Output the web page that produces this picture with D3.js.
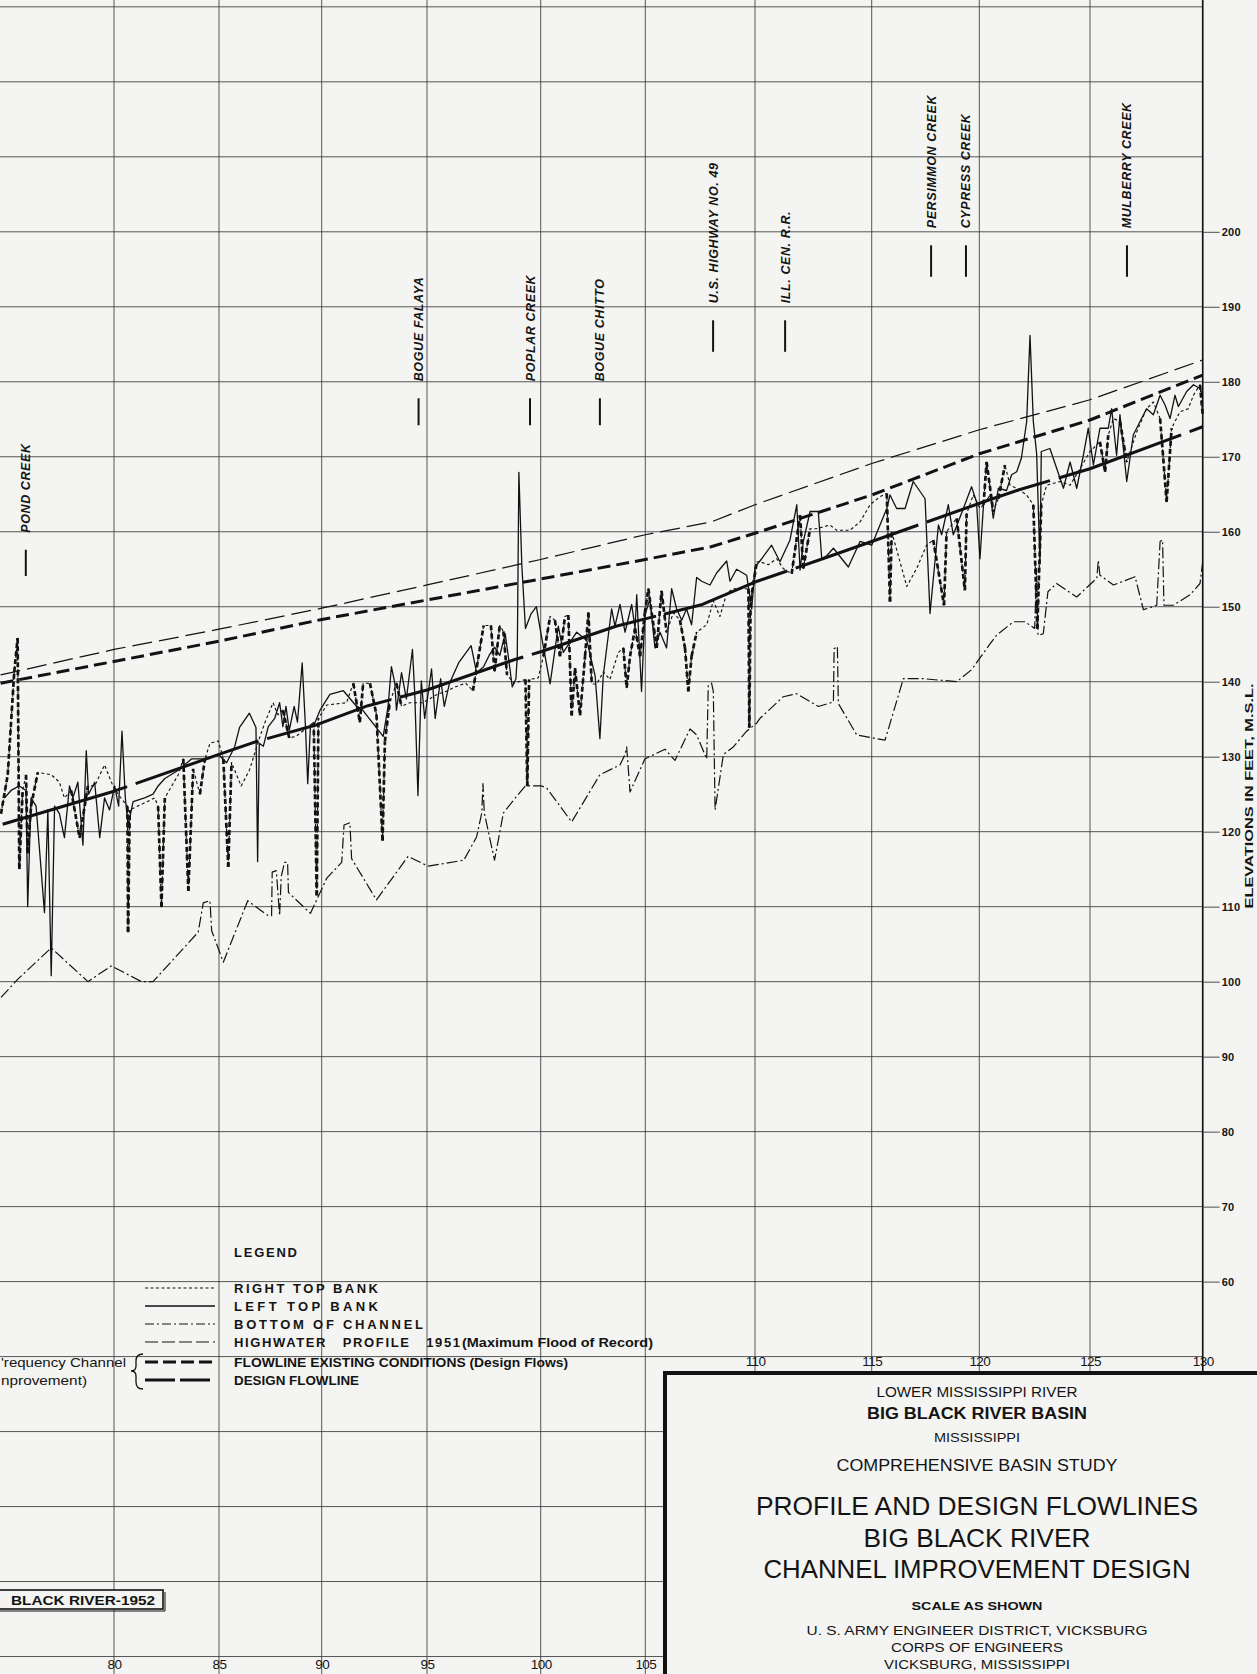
<!DOCTYPE html>
<html><head><meta charset="utf-8">
<script src="https://cdn.jsdelivr.net/npm/d3@7"></script>
<style>
body{margin:0;background:#f4f4f2;}
svg{display:block;}
text{fill:#141414;font-family:"Liberation Sans",Arial,sans-serif;}
</style></head><body>
<svg id="c" width="1257" height="1674"></svg>
<script>
// ---------------- DATA ----------------
const xTicks = [80,85,90,95,100,105,110,115,120,125,130];       // river miles (grid)
const bottomMileLabels = [80,85,90,95,100,105];
const topMileLabels = [110,115,120,125,130];
const gridLevels = [10,20,30,40,50,60,70,80,90,100,110,120,130,140,150,160,170,180,190,200,210,220,230];
const elevLabels = [60,70,80,90,100,110,120,130,140,150,160,170,180,190,200];

const highwater1951 = [[74.6,140.9],[80,144.3],[85,147.0],[90,149.8],[95,152.9],[100,156.3],[105,159.6],[108,161.3],[110,163.6],[115,169.1],[120,173.6],[125,177.6],[130,182.9]];
const flowlineExisting = [[74.6,139.8],[80,142.7],[85,145.4],[90,148.3],[95,150.9],[100,153.7],[105,156.3],[108,158.0],[110,159.8],[115,164.9],[120,170.4],[125,174.9],[130,180.9]];
const designFlowline = [[74.7,121.0],[80,125.4],[85,130.3],[86.8,132.0],[89.8,134.3],[92.2,136.8],[95,138.9],[98.8,142.9],[100,144.0],[103.6,147.4],[107.6,150.3],[110.1,153.4],[112.9,156.4],[115,158.7],[120.4,164.2],[121.8,165.6],[125,168.4],[130,174.0]];

const leftTopBank = [
[74.78,124.5],[75.1,125.5],[75.49,126.1],[75.81,125.5],[75.89,110],[76.05,124.5],[76.29,123.4],[76.69,109.2],[76.85,122.9],[77.01,100.8],[77.17,123.4],[77.40,122.4],[77.64,119.2],[77.88,126.1],[78.04,124.5],[78.28,126.6],[78.52,118.2],[78.68,130.8],[78.79,125],[79.08,126.6],[79.32,119.2],[79.55,124.5],[79.79,122.9],[80.03,126.1],[80.22,123.4],[80.38,133.4],[80.54,124.5],[80.67,120.8],[80.91,124],[81.46,124.5],[81.86,125],[82.10,126.1],[82.42,127.1],[83.06,128.2],[83.69,129.7],[84.33,129.7],[84.97,130.3],[85.37,129.2],[85.76,131.3],[86.0,133.9],[86.48,135.8],[86.8,133.9],[86.88,116],[86.96,131.8],
[87.16,131.4],[87.40,134],[87.71,135.1],[87.95,137.2],[88.11,134],[88.26,136.7],[88.42,133.5],[88.66,136.7],[88.82,134.6],[89.05,142.5],[89.21,134],[89.32,126.4],[89.45,134],[89.68,134.6],[89.92,136.2],[90.39,138.3],[91.03,138.8],[91.66,136.7],[91.89,136.4],[92.92,132.7],[93.15,136.7],[93.31,142],[93.47,139.8],[93.55,136.2],[93.79,141.2],[94.02,137.7],[94.31,144.3],[94.42,138.3],[94.57,124.8],[94.73,140.1],[94.89,135.1],[95.2,141.7],[95.36,135.1],[95.6,140.4],[95.76,136.7],[95.99,139.8],[96.39,142.5],[96.94,144.8],[97.18,141.2],[97.49,142],[97.73,143.5],[97.97,144.6],[98.2,143.5],[98.44,146.4],[98.6,142.8],[98.75,139.3],[98.91,140.4],[98.97,143.4],
[99.04,167.9],[99.17,155.5],[99.33,147.1],[99.57,149],[99.81,150],[99.97,147.1],[100.45,139.7],[100.84,147.4],[101.08,143.9],[101.72,146.6],[102.2,145.5],[102.6,140.8],[102.83,132.4],[102.99,140.8],[103.39,149.7],[103.55,147.4],[103.79,150.3],[104.03,146.6],[104.35,150.3],[104.51,147.1],[104.59,151.6],[104.82,138.7],[104.98,148.9],[105.21,151],[105.44,144.5],[105.67,146.6],[105.97,144.5],[106.2,152.4],[106.43,149.7],[106.66,148.2],[106.88,149.7],[107.11,147.6],[107.34,153.9],[107.57,153.4],[107.95,152.9],[108.25,154.5],[108.71,156.1],[108.86,153.4],[109.16,155],[109.62,154.2],[109.85,149.7],[110.0,155.3],
[110.29,156.4],[110.71,158.2],[111.07,156],[111.5,158.9],[111.79,163.6],[111.93,154.9],[112.07,158.7],[112.36,162.7],[112.71,162.7],[112.86,156.4],[113.07,156.8],[113.36,157.8],[114,155.3],[114.5,158.7],[115,158.2],[115.7,163.1],[115.85,164.9],[116.16,163.1],[116.55,163.1],[116.93,166.7],[117.48,164.4],[117.71,149.1],[118.1,160.9],[118.25,159.6],[118.56,163.6],[118.79,159.6],[119.26,163.1],[119.64,166],[119.87,164],[120.03,156.4],[120.19,163.6],[120.5,164.9],
[120.63,161.8],[120.86,165.8],[121.23,165.5],[121.46,167.6],[121.69,168],[121.9,169.8],[122.14,174.7],[122.29,186.2],[122.44,174.7],[122.59,170.4],[122.74,155.8],[122.8,170.7],[123.19,171.1],[123.8,165.8],[124.1,169.3],[124.4,165.8],[124.7,170.2],[124.92,173.8],[125.15,168.9],[125.44,173.8],[125.81,173.8],[125.96,176.4],[126.18,170.2],[126.33,175.6],[126.63,166.7],[126.92,172.9],[127.22,174.7],[127.51,176.4],[127.81,175.6],[128.11,178.2],[128.33,176.9],[128.55,175.1],[128.77,178.2],[128.92,176.7],[129.29,178.7],[129.59,179.6],[129.88,179.1],[130,178.2]];

const rightTopBank = [
[74.62,122.4],[74.94,127.6],[75.25,141.3],[75.41,145.8],[75.49,115],[75.65,125.5],[75.81,127.6],[75.89,117.1],[76.05,123.4],[76.37,127.9],[77.01,127.6],[77.40,126.6],[77.64,124.5],[77.96,125.5],[78.36,119.2],[78.76,126.1],[79.08,126.1],[79.55,128.9],[79.95,126.1],[80.19,125],[80.64,123.4],[80.67,106.6],[80.75,122.9],[81.94,124.5],[82.10,123.4],[82.26,110],[82.42,124.5],[83.06,127.6],[83.3,129.7],[83.54,112.1],[83.77,128.4],[84.09,125],[84.33,129.7],[84.57,131.8],[84.97,132.1],[85.21,129.7],[85.45,115.3],[85.61,129.2],[86.08,126.1],[86.48,128.2],[86.96,132.4],
[87.24,134.6],[87.63,137.2],[87.87,135.6],[88.11,136.2],[88.42,132.5],[88.74,132.7],[89.13,133.5],[89.61,134.6],[89.76,111.5],[89.84,135.1],[90.24,136.9],[91.18,137.2],[91.5,139.8],[91.81,134.6],[91.97,139.8],[92.29,139.8],[92.6,135.6],[92.89,118.8],[93.0,132],[93.23,137.2],[93.55,139.8],[93.79,136.7],[94.18,137.2],[94.81,137.2],[95.44,138.3],[95.91,138.8],[96.23,139.3],[96.7,139.8],[97.02,138.8],[97.49,147.5],[97.81,147.5],[97.97,141.4],[98.2,147.5],[98.36,146.7],[98.52,140.9],[98.83,139.8],
[99.33,140.3],[99.41,126.1],[99.49,140.3],[99.89,140.5],[100.13,143.4],[100.45,148.7],[100.68,148.2],[100.92,143.4],[101.16,148.7],[101.32,148.9],[101.48,135.5],[101.64,141.8],[101.88,135.5],[102.12,143.4],[102.28,149.2],[102.44,139.7],[102.68,139.7],[102.99,141.3],[103.31,140.3],[103.71,143.9],[103.95,144.5],[104.11,139.2],[104.27,143.4],[104.51,147.1],[104.75,143.4],[104.98,149.2],[105.14,152.4],[105.29,149.2],[105.52,144.5],[105.74,152.1],[105.97,146.6],[106.28,149.2],[106.58,148.2],[106.81,144.5],[106.96,138.7],[107.11,143.4],[107.34,146.6],[107.8,147.6],[108.1,150.8],[108.4,148.7],[108.71,151.8],[109.01,152.4],[109.7,152.4],[109.74,133.9],[109.8,150.8],[110.08,156],
[110.21,156],[110.57,155.6],[110.93,156.4],[111.21,155.1],[111.57,154.4],[111.93,162.2],[112.07,155.1],[112.36,160.4],[112.64,160.4],[113.21,160.9],[113.5,160.2],[114.07,160.2],[114.5,161.3],[114.93,163.6],[115.39,164.7],[115.7,165.1],[115.85,150.7],[115.93,160],[116.63,152.7],[117.09,155.1],[117.55,158.2],[117.86,158.9],[118.36,150.2],[118.48,160],[118.95,161.8],[119.33,152.2],[119.41,162.4],[119.72,164.9],[120.03,163.1],[120.19,163.6],
[120.33,169.3],[120.63,162.7],[120.86,164.4],[121.16,168.9],[121.39,166.2],[121.69,165.8],[122.14,164.9],[122.44,163.6],[122.62,147.1],[122.8,163.6],[123.04,166.2],[123.64,166.7],[124.1,166.2],[124.55,168.4],[125,170.7],[125.44,172],[125.67,168],[125.81,172.9],[126.04,175.1],[126.33,174.7],[126.63,169.3],[127.07,173.3],[127.51,176.4],[127.81,177.3],[128.11,175.1],[128.4,164],[128.62,173.8],[128.99,176],[129.36,176.4],[129.59,178.2],[129.88,179.6],[130,175.6]];

const bottomOfChannel = [
[74.62,97.9],[75.41,100.3],[77.01,104.5],[78.76,100],[79.87,102.1],[81.31,100],[81.86,100],[84.01,106.6],[84.25,110.5],[84.57,110.8],[84.65,106.8],[85.21,102.6],[86.4,110.8],[87.04,109.5],[87.4,108.8],[87.56,108.8],[87.59,114.6],[87.79,114.8],[87.95,108.8],[88.03,114],[88.19,115.9],[88.34,115.9],[88.38,111.9],[89.45,109.1],[90.24,113.8],[90.95,115.9],[91.06,120.9],[91.34,121.2],[91.42,116.4],[92.6,110.9],[94.1,116.7],[95.05,115.4],[96.62,116.2],[97.18,119.3],[97.41,122.5],[97.46,126.4],[97.52,122.5],[97.97,116.2],[98.36,122.5],[98.91,124.6],[99.33,126.1],[100.05,126.1],[100.29,125.8],[101.48,121.3],[102.83,127.6],[103.79,128.9],[104.03,130.3],[104.11,131.3],[104.27,125.3],[104.98,129.7],[105.9,131],[106.35,129.5],[107.04,133.7],[107.34,132.9],[107.8,129.7],[107.87,139.5],[108.02,139.8],[108.1,138.7],[108.18,122.9],[108.56,130.3],[109.01,131.3],[109.62,133.4],[110.08,134.5],[110.21,135.1],[111.21,138],[111.79,138.4],[112.71,136.7],[113.36,137.3],[113.39,144.4],[113.53,144.7],[113.57,137.1],[114.36,132.9],[115.62,132.2],[116.47,140.4],[117.4,140.4],[118.95,140],[119.64,141.6],[120.5,145.1],[120.78,146.2],[121.54,148],[122.06,148],[122.5,147.1],[122.59,155.1],[122.65,146.2],[122.89,146.4],[123.1,152],[123.49,153.1],[124.4,151.3],[125.3,153.8],[125.37,156.2],[125.44,154.2],[126.04,152.9],[127,154],[127.37,149.6],[127.96,150.2],[128.11,158.7],[128.22,158.9],[128.28,150.2],[128.7,150.2],[129.44,151.6],[129.88,153.1],[130,156]];

const markerNames = ["POND CREEK","BOGUE FALAYA","POPLAR CREEK","BOGUE CHITTO","U.S. HIGHWAY NO. 49","ILL. CEN. R.R.","PERSIMMON CREEK","CYPRESS CREEK","MULBERRY CREEK"];
const markerMiles = [75.8,94.6,99.53,102.83,108.09,111.29,117.76,119.38,126.64];
const markerTop = [157.6,177.8,177.8,177.8,188.2,188.2,198.2,198.2,198.2];
const markerBottom = [154.1,174.2,174.2,174.2,184.0,184.0,194.0,194.0,194.0];

const legendLabels = ["RIGHT TOP BANK","LEFT TOP BANK","BOTTOM OF CHANNEL","HIGHWATER   PROFILE   1951","FLOWLINE EXISTING CONDITIONS (Design Flows)","DESIGN FLOWLINE"];
const legendNote = "(Maximum Flood of Record)";
const bracketLines = ["'requency Channel","nprovement)"];
const titleLines = ["LOWER MISSISSIPPI RIVER","BIG BLACK RIVER BASIN","MISSISSIPPI","COMPREHENSIVE BASIN STUDY","PROFILE AND DESIGN FLOWLINES","BIG BLACK RIVER","CHANNEL IMPROVEMENT DESIGN","SCALE AS SHOWN","U. S. ARMY ENGINEER DISTRICT, VICKSBURG","CORPS OF ENGINEERS","VICKSBURG, MISSISSIPPI"];

// ---------------- LAYOUT ----------------
const W = 1257, H = 1674, boxLeft = 665, boxTop = 1373;
const INK = "#121212", GRID = "#3a3a3a", BG = "#f4f4f2";
const svg = d3.select("#c");
svg.append("rect").attr("width",W).attr("height",H).attr("fill",BG);

const x = d3.scaleLinear().domain(xTicks)
  .range([114,219,321.7,427,540.7,645.3,755,871.7,979.3,1090,1202.7]);
const y = d3.scaleLinear().domain([60,200]).range([1281.6,231.8]);
const axisX = x(130);

// grid
const grid = svg.append("g").attr("stroke",GRID).attr("stroke-width",0.85);
grid.selectAll("line.h").data(gridLevels).join("line")
  .attr("x1",0).attr("x2",d=> d>=50 ? axisX : boxLeft)
  .attr("y1",d=>y(d)).attr("y2",d=>y(d));
grid.selectAll("line.v").data(xTicks).join("line")
  .attr("x1",d=>x(d)).attr("x2",d=>x(d))
  .attr("y1",0).attr("y2",d=> x(d) < boxLeft ? H : boxTop);
// axis line
svg.append("line").attr("x1",axisX).attr("x2",axisX).attr("y1",0).attr("y2",boxTop)
  .attr("stroke",INK).attr("stroke-width",1.6);

// right axis labels
const ya = svg.append("g").attr("transform",`translate(${axisX},0)`)
  .call(d3.axisRight(y).tickValues(elevLabels).tickSize(17).tickPadding(2));
ya.select(".domain").remove();
ya.selectAll("line").attr("stroke",GRID).attr("stroke-width",0.9);
ya.selectAll("text").attr("font-family","'Liberation Sans',Arial,sans-serif").attr("font-size",11)
  .attr("font-weight","bold").attr("fill",INK).attr("letter-spacing",0.3);
svg.append("text").attr("transform",`translate(1253,796) rotate(-90)`)
  .attr("text-anchor","middle").attr("font-size",11.5).attr("font-weight","bold")
  .attr("textLength",225).attr("lengthAdjust","spacingAndGlyphs")
  .text("ELEVATIONS IN FEET, M.S.L.");

// mile labels
function mileAxis(vals, lev, pad){
  const g = svg.append("g").attr("transform",`translate(0,${y(lev)})`)
    .call(d3.axisBottom(x).tickValues(vals).tickSize(0).tickPadding(pad));
  g.select(".domain").remove();
  g.selectAll("text").attr("font-family","'DejaVu Sans',sans-serif").attr("font-size",13.5)
    .attr("fill",INK).attr("letter-spacing",-0.6);
}
mileAxis(bottomMileLabels,10,3);
mileAxis(topMileLabels,50,0);

// ---------------- SERIES ----------------
const line = d3.line().x(d=>x(d[0])).y(d=>y(d[1]));
const series = svg.append("g").attr("fill","none").attr("stroke",INK)
  .attr("stroke-linejoin","round");

series.append("path").datum(bottomOfChannel).attr("d",line)
  .attr("stroke-width",1.2).attr("stroke-dasharray","11,3,2,3");

series.append("path").datum(rightTopBank).attr("d",line)
  .attr("stroke-width",1.15).attr("stroke-dasharray","3,2.6");
// steep dips of right bank rendered heavier as in the drawing
const rbSegs = d3.pairs(rightTopBank).filter(([a,b])=>{
  const dx = Math.abs(x(b[0])-x(a[0])), dy = Math.abs(y(b[1])-y(a[1]));
  return dy > 22 && dy > 4*dx;
});
series.selectAll("path.rbs").data(rbSegs).join("path").attr("d",line)
  .attr("stroke-width",2.7).attr("stroke-dasharray","5,3");

series.append("path").datum(leftTopBank).attr("d",line).attr("stroke-width",1.3);

series.append("path").datum(highwater1951).attr("d",line)
  .attr("stroke-width",1.25).attr("stroke-dasharray","20,7");
series.append("path").datum(flowlineExisting).attr("d",line)
  .attr("stroke-width",3).attr("stroke-dasharray","13,6");
series.append("path").datum(designFlowline).attr("d",line)
  .attr("stroke-width",3).attr("stroke-dasharray","130,9");

// ---------------- MARKERS ----------------
const mk = svg.append("g");
markerNames.forEach((name,i)=>{
  const mx = x(markerMiles[i]);
  mk.append("line").attr("x1",mx).attr("x2",mx)
    .attr("y1",y(markerTop[i])).attr("y2",y(markerBottom[i]))
    .attr("stroke",INK).attr("stroke-width",2);
  mk.append("text").attr("transform",`translate(${mx+4.5},${y(markerTop[i])-17}) rotate(-90)`)
    .attr("font-size",12.5).attr("font-weight","bold").attr("font-style","italic")
    .attr("letter-spacing",0.6).text(name);
});

// ---------------- LEGEND ----------------
const lg = svg.append("g");
lg.append("text").attr("x",234).attr("y",1257).attr("font-size",13).attr("font-weight","bold")
  .attr("textLength",63).attr("lengthAdjust","spacing").text("LEGEND");
const rowY = [1288,1306,1324,1342,1362,1380];
const rowW = [144,144,189,226,334,125];
const sampleStyle = [
  {w:1.1,dash:"3,2.5"},{w:1.3,dash:null},{w:1.1,dash:"9,3,2,3"},
  {w:1.2,dash:"13,4"},{w:3,dash:"13,5"},{w:3.2,dash:"30,5"}];
legendLabels.forEach((lab,i)=>{
  const st = sampleStyle[i];
  lg.append("line").attr("x1",145).attr("x2",215).attr("y1",rowY[i]).attr("y2",rowY[i])
    .attr("stroke",INK).attr("stroke-width",st.w).attr("stroke-dasharray",st.dash);
  lg.append("text").attr("x",234).attr("y",rowY[i]+5)
    .attr("font-size",13).attr("font-weight","bold").attr("xml:space","preserve")
    .style("white-space","pre")
    .attr("textLength",rowW[i]).attr("lengthAdjust",i<4?"spacing":"spacingAndGlyphs")
    .text(lab);
});
lg.append("text").attr("x",462).attr("y",rowY[3]+5).attr("font-size",13).attr("font-weight","bold")
  .attr("textLength",191).attr("lengthAdjust","spacingAndGlyphs").text(legendNote);
lg.append("text").attr("x",1).attr("y",rowY[4]+5)
  .attr("font-size",13.5).attr("textLength",125).attr("lengthAdjust","spacingAndGlyphs").text(bracketLines[0]);
lg.append("text").attr("x",1).attr("y",rowY[5]+5)
  .attr("font-size",13.5).attr("textLength",86).attr("lengthAdjust","spacingAndGlyphs").text(bracketLines[1]);
lg.append("path").attr("fill","none").attr("stroke",INK).attr("stroke-width",1.3)
  .attr("d","M143,1354 Q136,1354 136,1361 L136,1366 Q136,1371 131,1371 Q136,1371 136,1376 L136,1382 Q136,1389 143,1389");

// river-1952 box
svg.append("rect").attr("x",-4).attr("y",1590).attr("width",167).attr("height",19)
  .attr("fill",BG).attr("stroke",INK).attr("stroke-width",1.6);
svg.append("line").attr("x1",0).attr("x2",165).attr("y1",1611).attr("y2",1611).attr("stroke",INK).attr("stroke-width",1);
svg.append("line").attr("x1",165).attr("x2",165).attr("y1",1592).attr("y2",1611).attr("stroke",INK).attr("stroke-width",1);
svg.append("text").attr("x",11).attr("y",1605).attr("font-size",13).attr("font-weight","bold")
  .attr("textLength",144).attr("lengthAdjust","spacingAndGlyphs").text("BLACK RIVER-1952");

// ---------------- TITLE BLOCK ----------------
svg.append("rect").attr("x",boxLeft).attr("y",boxTop).attr("width",W-boxLeft+20).attr("height",H-boxTop+20)
  .attr("fill",BG).attr("stroke",INK).attr("stroke-width",4);
const tb = [
  {y:1397,s:14,w:201,b:false},{y:1419,s:16,w:220,b:true},{y:1441.5,s:12,w:86,b:false},
  {y:1471,s:16,w:281,b:false},{y:1515,s:25,w:442,b:false},{y:1547,s:25,w:227,b:false},
  {y:1578,s:25,w:427,b:false},{y:1610,s:10.5,w:131,b:true},{y:1635,s:13.5,w:341,b:false},
  {y:1652,s:13.5,w:172,b:false},{y:1669,s:13.5,w:186,b:false}];
titleLines.forEach((t,i)=>{
  svg.append("text").attr("x",977).attr("y",tb[i].y).attr("text-anchor","middle")
    .attr("font-size",tb[i].s).attr("font-weight",tb[i].b?"bold":"normal")
    .attr("textLength",tb[i].w).attr("lengthAdjust","spacingAndGlyphs").text(t);
});
</script>
</body></html>
